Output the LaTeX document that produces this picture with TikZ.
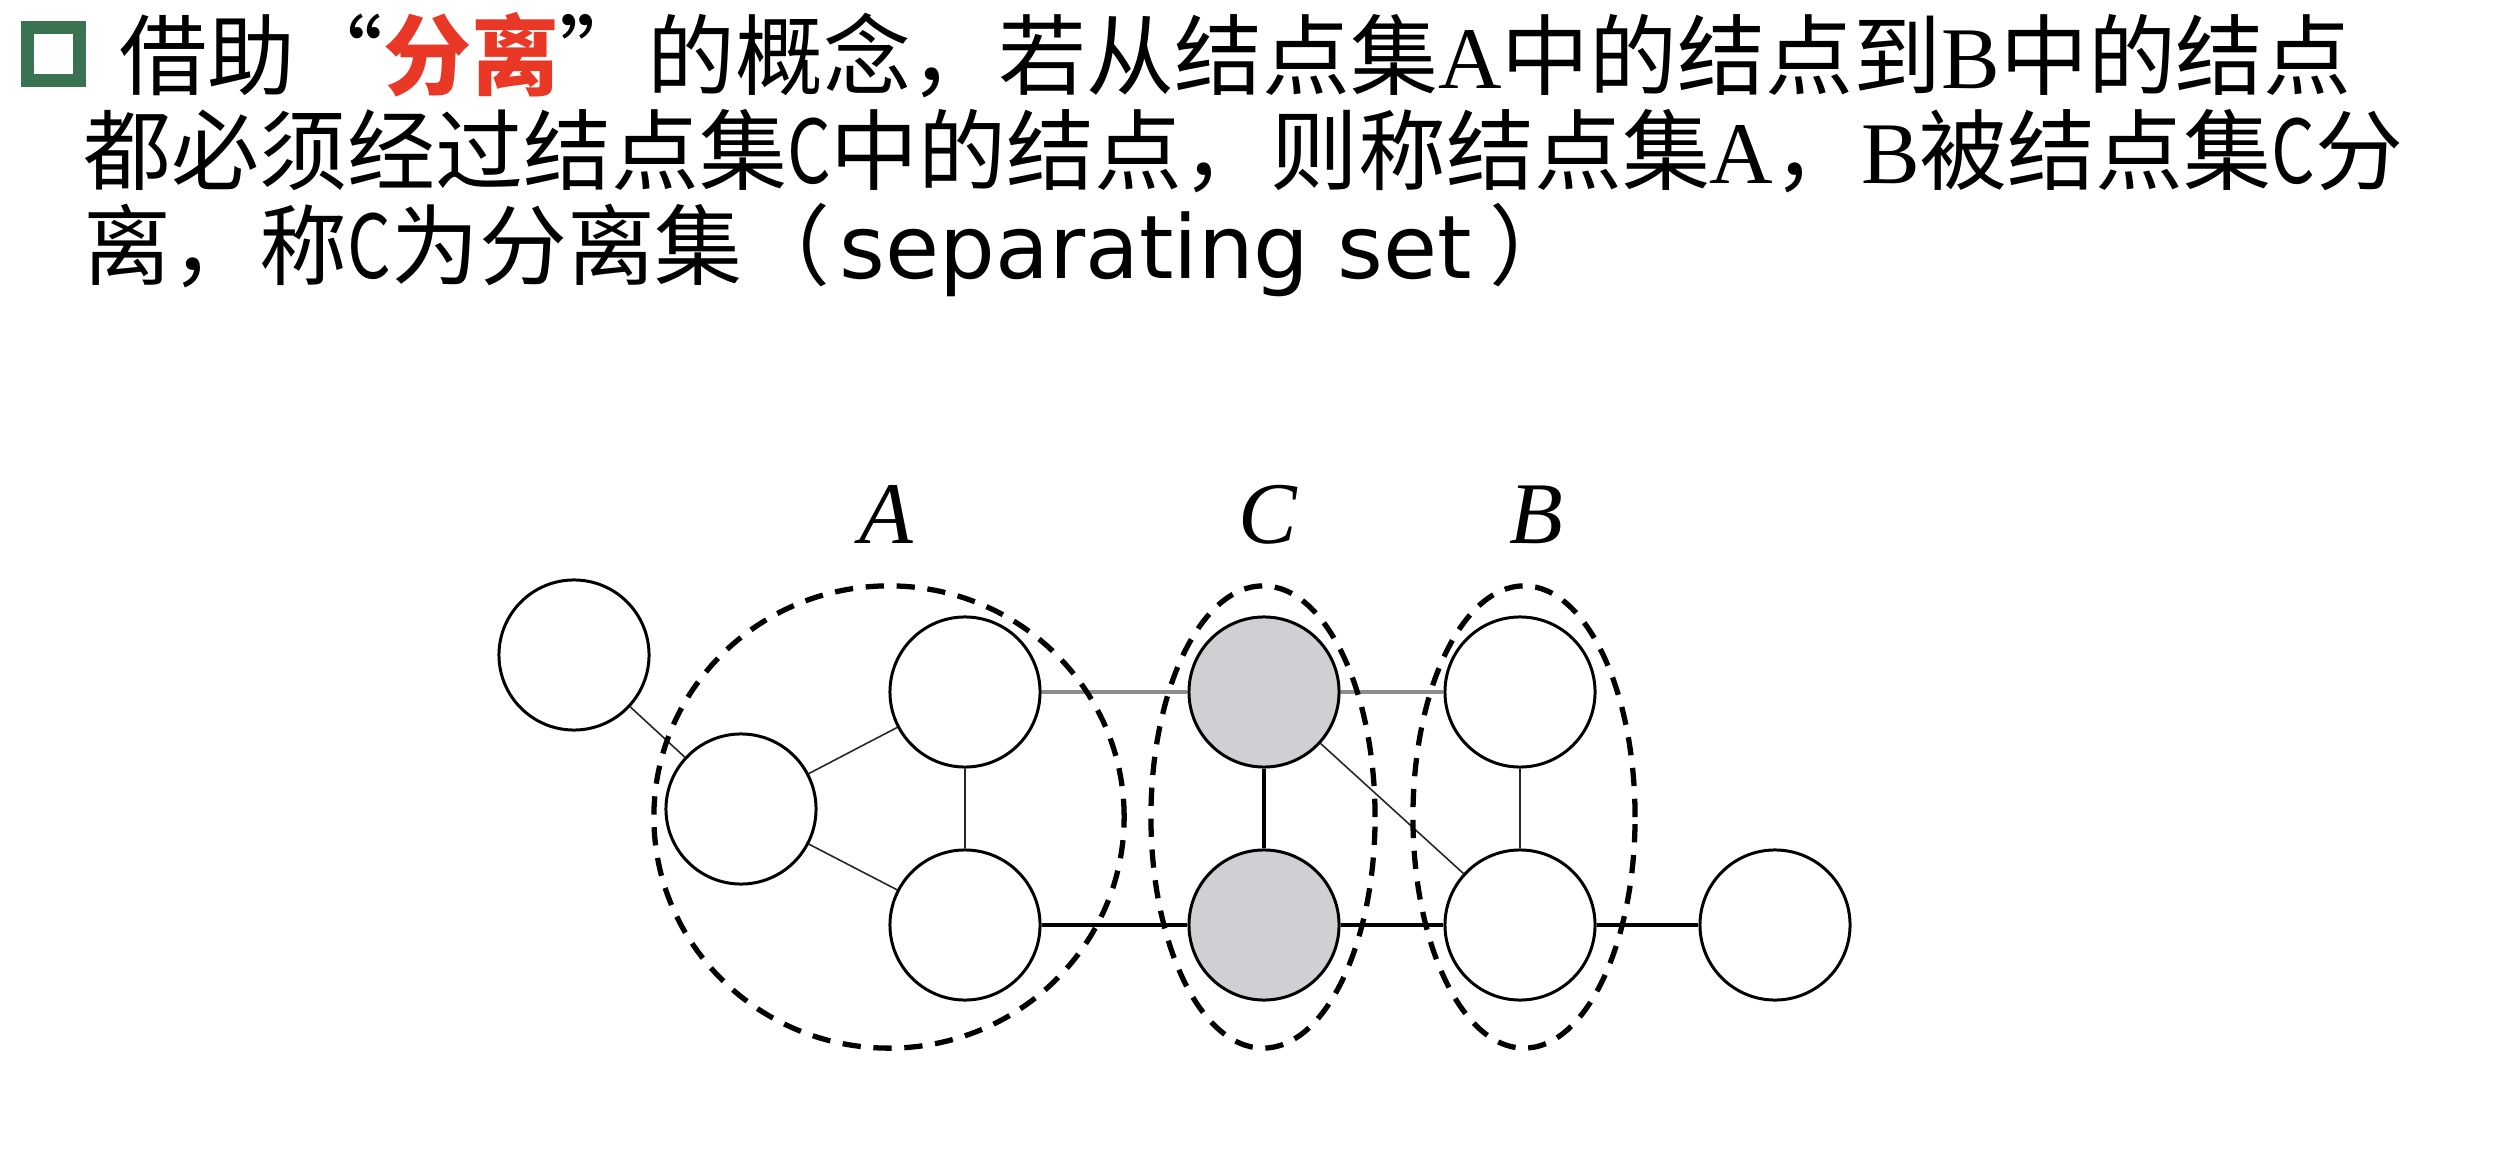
\documentclass[tikz,border=0pt]{standalone}
\usepackage{fontspec}
\usepackage{graphicx}
\usetikzlibrary{shapes.geometric}
\newfontfamily\cjk{Noto Sans CJK SC}
\newfontfamily\dejavu{DejaVu Sans}
\newfontfamily\lserif{Liberation Serif}
\newcommand\narrowC{\scalebox{0.78}[1]{C}}
\definecolor{bulletgreen}{RGB}{58,115,82}
\definecolor{sepred}{RGB}{233,56,38}
\definecolor{nodegray}{RGB}{208,207,211}
\pgfdeclarelayer{background}
\pgfsetlayers{background,main}
\tikzset{
  titleline/.style={anchor=base west, inner sep=0pt, font=\fontsize{25}{30}\selectfont\cjk},
  gnode/.style={circle, draw, line width=0.85pt, fill=white, minimum size=1.5cm, inner sep=0pt},
  cnode/.style={gnode, fill=nodegray},
  setellipse/.style={ellipse, draw, line width=1.5pt, dash pattern=on 5.2pt off 3.6pt, inner sep=0pt},
  setlabel/.style={anchor=base, inner sep=0pt, font=\fontsize{25}{30}\selectfont\lserif\itshape},
  thinedge/.style={line width=0.45pt, black!85},
  grayedge/.style={line width=0.9pt, black!45},
  thickedge/.style={line width=1.4pt, black}
}
\begin{document}
\begin{tikzpicture}[x=0.01cm, y=-0.01cm]
\useasboundingbox (0,0) rectangle (2494,1164);
% bullet
\node[draw=bulletgreen, line width=3.7pt, minimum size=0.52cm, inner sep=0pt] (bullet) at (53.5,54) {};
% title
\node[titleline] (l1) at (119,89) {借助“{\color{sepred}\bfseries 分离}”的概念，若从结点集{\lserif A}中的结点到{\lserif B}中的结点};
\node[titleline] (l2) at (83,184) {都必须经过结点集\narrowC 中的结点，则称结点集{\lserif A}，{\lserif B}被结点集\narrowC 分};
\node[titleline] (l3) at (83,279) {离，称\narrowC 为分离集（\hspace{0.1em}{\dejavu separating set}\hspace{0.2em}）};
% graph nodes
\node[gnode] (n1) at (574,655) {};
\node[gnode] (n2) at (741,809) {};
\node[gnode] (n3) at (965,692) {};
\node[gnode] (n4) at (965,925) {};
\node[cnode] (ct) at (1264,692) {};
\node[cnode] (cb) at (1264,925) {};
\node[gnode] (bt) at (1520,692) {};
\node[gnode] (bb) at (1520,925) {};
\node[gnode] (nr) at (1775,925) {};
% edges
\begin{pgfonlayer}{background}
\draw[thinedge] (n1) -- (n2);
\draw[thinedge] (n2) -- (n3);
\draw[thinedge] (n2) -- (n4);
\draw[thinedge] (n3) -- (n4);
\draw[grayedge] (n3) -- (ct);
\draw[grayedge] (ct) -- (bt);
\draw[thickedge] (ct) -- (cb);
\draw[thinedge] (ct) -- (bb);
\draw[thinedge] (bt) -- (bb);
\draw[thickedge] (n4) -- (cb);
\draw[thickedge] (cb) -- (bb);
\draw[thickedge] (bb) -- (nr);
\end{pgfonlayer}
% set ellipses
\node[setellipse, minimum width=4.70cm, minimum height=4.62cm] (setA) at (889,817) {};
\node[setellipse, minimum width=2.24cm, minimum height=4.62cm] (setC) at (1263,817) {};
\node[setellipse, minimum width=2.22cm, minimum height=4.62cm] (setB) at (1524,817) {};
% labels
\node[setlabel] (labA) at (886,544) {A};
\node[setlabel] (labC) at (1268,544) {C};
\node[setlabel] (labB) at (1536,544) {B};
\end{tikzpicture}
\end{document}
